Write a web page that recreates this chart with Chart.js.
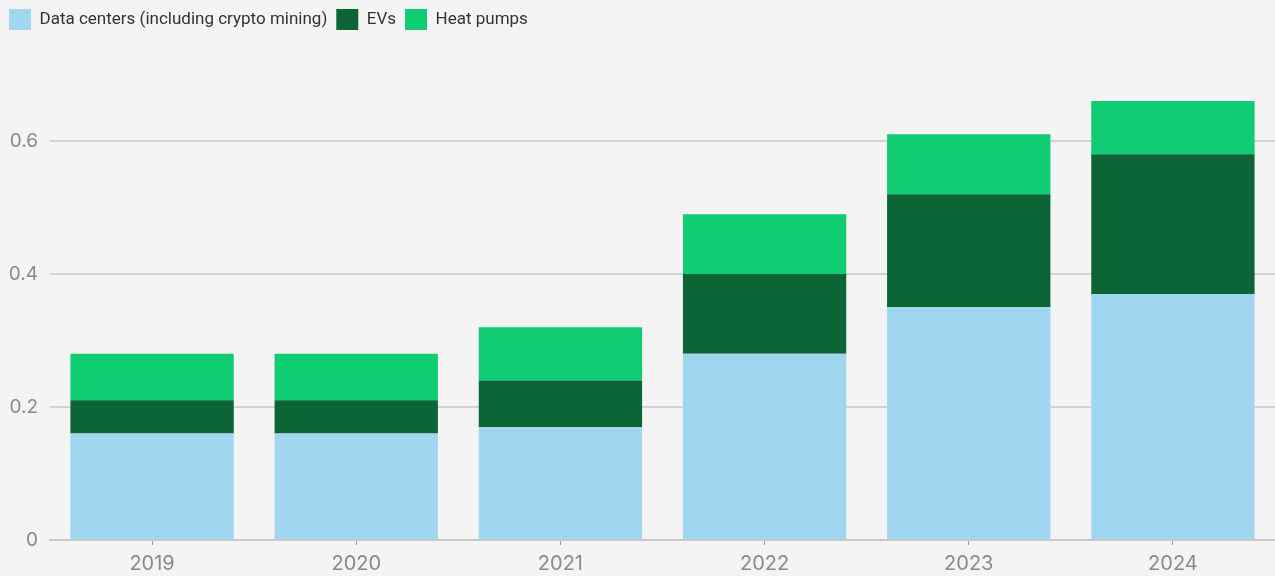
<!DOCTYPE html>
<html>
<head>
<meta charset="utf-8">
<script src="https://cdn.jsdelivr.net/npm/chart.js@4"></script>
<style>
  html, body { margin: 0; padding: 0; background: #f4f4f4; }
  #wrap { width: 1275px; height: 576px; position: relative; }
</style>
</head>
<body>
<div id="wrap"><canvas id="c" width="1275" height="576"></canvas></div>
<script>
const categories = ['2019', '2020', '2021', '2022', '2023', '2024'];
const dataCenters = [0.16, 0.16, 0.17, 0.28, 0.35, 0.37];
const evs = [0.05, 0.05, 0.07, 0.12, 0.17, 0.21];
const heatPumps = [0.07, 0.07, 0.08, 0.09, 0.09, 0.08];
const seriesNames = ['Data centers (including crypto mining)', 'EVs', 'Heat pumps'];
const seriesColors = ['#a0d6f0', '#0b6534', '#10cd73'];
const yTicks = [0, 0.2, 0.4, 0.6];
const yMax = 0.7;

const FONT = 'Inter, "Noto Sans", sans-serif';

const legendMargin = {
  id: 'legendMargin',
  beforeInit(chart) {
    const orig = chart.legend.fit;
    chart.legend.fit = function () {
      orig.bind(chart.legend)();
      this.height = 74.5;
    };
  }
};

new Chart(document.getElementById('c'), {
  type: 'bar',
  data: {
    labels: categories,
    datasets: [
      { label: seriesNames[0], data: dataCenters, backgroundColor: seriesColors[0] },
      { label: seriesNames[1], data: evs, backgroundColor: seriesColors[1] },
      { label: seriesNames[2], data: heatPumps, backgroundColor: seriesColors[2] }
    ]
  },
  options: {
    responsive: false,
    animation: false,
    layout: { padding: 0 },
    datasets: { bar: { categoryPercentage: 1.0, barPercentage: 0.8 } },
    plugins: {
      tooltip: { enabled: false },
      legend: {
        position: 'top',
        align: 'start',
        labels: {
          boxWidth: 22,
          boxHeight: 21,
          padding: 9,
          color: '#333333',
          font: { family: 'Roboto, ' + FONT, size: 17 }
        }
      }
    },
    scales: {
      x: {
        stacked: true,
        grid: { offset: false, drawOnChartArea: false, drawTicks: true, tickLength: 5, color: '#999999' },
        border: { display: true, color: '#c8c8c8', width: 2 },
        ticks: { color: '#8a8a8a', padding: 7, font: { family: FONT, size: 20 } },
        afterFit(scale) { scale.height = 36; }
      },
      y: {
        stacked: true,
        min: 0,
        max: yMax,
        afterBuildTicks(scale) { scale.ticks = yTicks.map(v => ({ value: v })); },
        grid: { color: '#d2d2d2', lineWidth: 2, drawTicks: false },
        border: { display: false },
        ticks: {
          color: '#8a8a8a',
          padding: 12,
          font: { family: FONT, size: 19 },
          callback: (v) => String(v)
        },
        afterFit(scale) { scale.width = 50; }
      }
    }
  },
  plugins: [legendMargin]
});
</script>
</body>
</html>
